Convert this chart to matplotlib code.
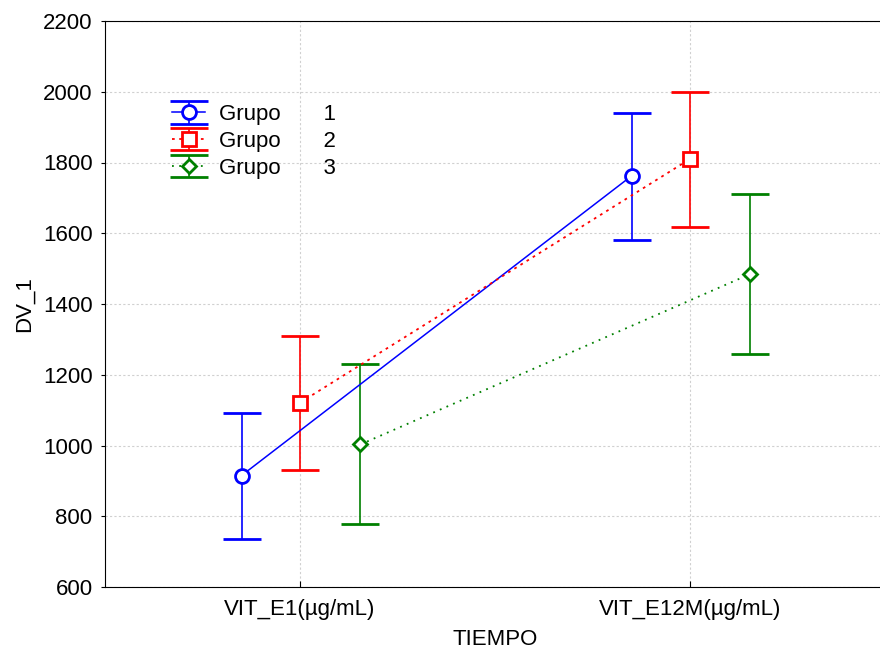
import numpy as np
import matplotlib
matplotlib.use("Agg")
import matplotlib.pyplot as plt
from matplotlib.legend_handler import HandlerErrorbar

plt.rcParams['font.family'] = ['Liberation Sans', 'DejaVu Sans']
plt.rcParams['font.size'] = 16

# Means and confidence limits per group at each time point
categories = ["VIT_E1(µg/mL)", "VIT_E12M(µg/mL)"]
groups = ["1", "2", "3"]
means = {
    "1": [915, 1762],
    "2": [1121, 1810],
    "3": [1003, 1485],
}
upper = {
    "1": [1092, 1940],
    "2": [1310, 2000],
    "3": [1229, 1711],
}
lower = {
    "1": [736, 1581],
    "2": [930, 1618],
    "3": [779, 1258],
}

colors = {"1": "#0000ff", "2": "#ff0000", "3": "#008000"}
markers = {"1": "o", "2": "s", "3": "D"}
styles = {"1": "-", "2": (0, (1.5, 2.5)), "3": (0, (1, 3))}
msizes = {"1": 10, "2": 9.5, "3": 7.5}
offsets = {"1": -0.15, "2": 0.0, "3": 0.155}

fig = plt.figure(figsize=(8.8, 6.55), dpi=100)
ax = fig.add_axes([105 / 880, 68 / 655, 780 / 880, 566 / 655])

x = np.arange(len(categories))
for g in groups:
    m = np.array(means[g])
    yerr = [m - np.array(lower[g]), np.array(upper[g]) - m]
    ax.errorbar(x + offsets[g], m, yerr=yerr, color=colors[g],
                linestyle=styles[g], linewidth=1.1 if g == "1" else 1.3,
                marker=markers[g], markersize=msizes[g],
                markerfacecolor="white", markeredgewidth=2,
                ecolor=colors[g], elinewidth=1.2, capsize=13.5, capthick=1.1,
                label=f"Grupo       {g}")

ax.set_xlim(-0.5, 1.5)
ax.set_ylim(600, 2200)
ax.set_yticks(np.arange(600, 2201, 200))
ax.set_xticks(x)
ax.set_xticklabels(categories)
ax.tick_params(axis='x', direction='in', length=4, pad=9)
ax.tick_params(axis='y', direction='out', length=3, pad=6)

ax.grid(True, linestyle=(0, (2, 2)), color="#d0d0d0", linewidth=0.8)
ax.set_axisbelow(True)
ax.spines['right'].set_visible(False)

ax.set_xlabel("TIEMPO", labelpad=6)
ax.set_ylabel("DV_1", labelpad=6)

ax.legend(loc="upper left", bbox_to_anchor=(0.086, 0.853), frameon=False,
          handlelength=1.5, handletextpad=0.6, labelspacing=0.26,
          borderpad=0, borderaxespad=0,
          handler_map={type(ax.containers[0]): HandlerErrorbar(xerr_size=0.5)})

fig.savefig("out.png", dpi=100)
